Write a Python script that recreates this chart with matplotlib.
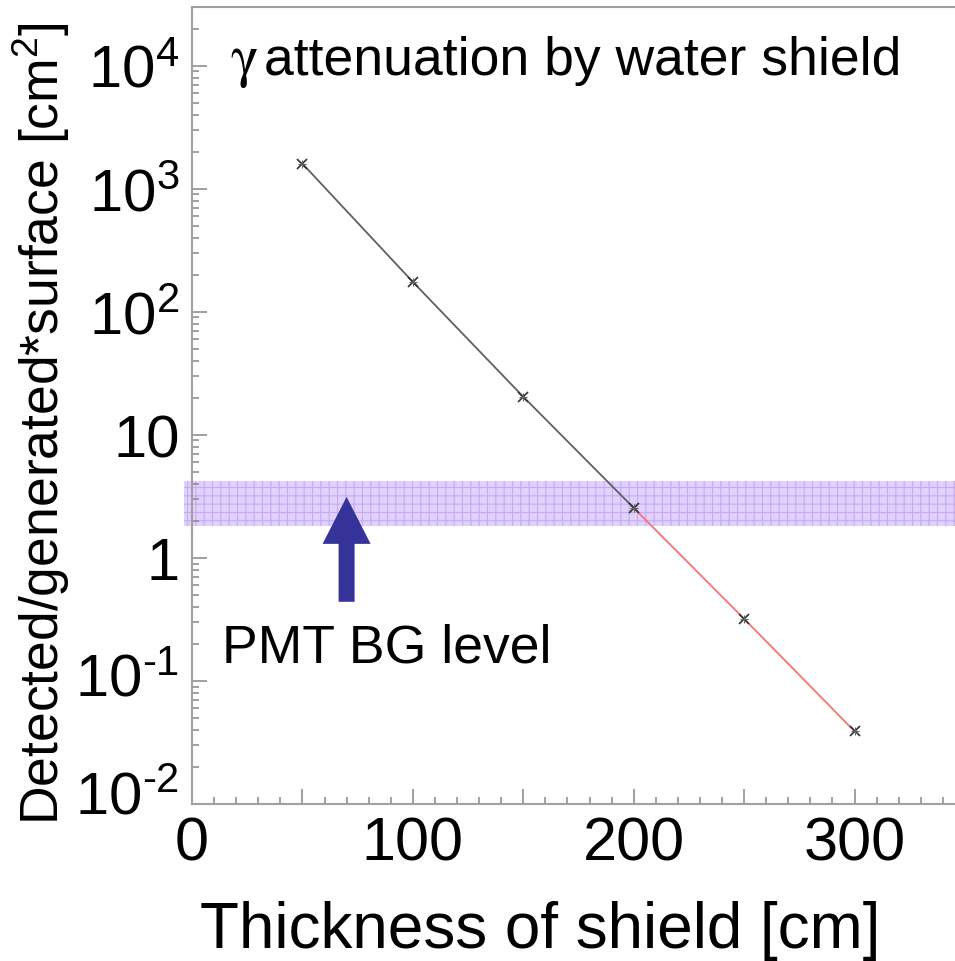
import numpy as np
import matplotlib
matplotlib.use("Agg")
import matplotlib.pyplot as plt
from matplotlib.ticker import LogLocator, MultipleLocator, NullFormatter
from matplotlib.transforms import offset_copy

plt.rcParams["font.family"] = ["Liberation Sans", "DejaVu Sans"]
plt.rcParams["mathtext.fontset"] = "custom"
plt.rcParams["mathtext.rm"] = "Liberation Sans"
plt.rcParams["mathtext.default"] = "regular"
plt.rcParams["hatch.linewidth"] = 0.8

# data
thickness = [50, 100, 150, 200, 250, 300]
ratio = [1600, 175, 20.4, 2.55, 0.32, 0.039]
split = 3  # black part up to 200 cm, red beyond

bg_low, bg_high = 1.8, 4.2
arrow_x, arrow_from, arrow_to = 70, 0.44, 3.13

xtick_pos = [0, 50, 100, 150, 200, 250, 300]
xtick_labels = ["0", "", "100", "", "200", "", "300"]
ytick_pos = [1e-2, 1e-1, 1, 10, 1e2, 1e3, 1e4]
ytick_labels = ["10$^{\\text{-}2}$", "10$^{\\text{-}1}$", "1", "10",
                "10$^{2}$", "10$^{3}$", "10$^{4}$"]

fig = plt.figure(figsize=(9.55, 9.62), dpi=100)
ax = fig.add_axes([192 / 955, 157 / 962, 1 - 192 / 955, 797 / 962])
ax.set_yscale("log")
ax.set_xlim(0, 345.5)
ax.set_ylim(1e-2, 3e4)

ax.axhspan(bg_low, bg_high, xmin=-0.011, xmax=1, facecolor="#e0d2fc",
           edgecolor="#c7a9f4", hatch="++", linewidth=0, clip_on=False, zorder=1)

ax.plot(thickness[:split + 1], ratio[:split + 1], color="#606060", lw=1.3, zorder=3)
ax.plot(thickness[split:], ratio[split:], color="#f27474", lw=1.3, zorder=3)
ax.plot(thickness, ratio, ls="none", marker="x", ms=7, mew=1.2, color="#333333", zorder=4)
ax.plot(thickness, ratio, ls="none", marker="+", ms=6, mew=0.8, color="#666666", zorder=4)

ax.annotate("", xy=(arrow_x, arrow_to), xytext=(arrow_x, arrow_from),
            arrowprops=dict(arrowstyle="simple,head_length=3.38,head_width=3.46,tail_width=1.15",
                            mutation_scale=10, color="#35339a", shrinkA=0, shrinkB=0, lw=0),
            zorder=5)

ax.text(13.5, 0.145, "PMT BG level", fontsize=38.5, va="baseline", ha="left")
# the gamma is a serif (symbol) glyph in the original
ax.text(0.05, 0.916, "$\\mathrm{\\gamma}$", fontsize=42, math_fontfamily="stix",
        transform=ax.transAxes, va="baseline", ha="left")
ax.text(0.094, 0.916, "attenuation by water shield", fontsize=38.5,
        transform=ax.transAxes, va="baseline", ha="left")

ax.set_xticks(xtick_pos)
ax.set_xticklabels(xtick_labels)
ax.xaxis.set_minor_locator(MultipleLocator(10))
ax.set_yticks(ytick_pos)
ax.set_yticklabels(ytick_labels)
ax.yaxis.set_minor_locator(LogLocator(base=10, subs=np.arange(2, 10)))
ax.yaxis.set_minor_formatter(NullFormatter())

ax.tick_params(which="both", direction="in", color="#909090", width=1.2)
ax.tick_params(which="major", length=10.5, labelsize=43)
ax.tick_params(axis="x", which="major", labelsize=44)
ax.tick_params(which="minor", length=5)
ax.tick_params(axis="x", pad=8)
ax.tick_params(axis="y", pad=9)

# lift the two lowest y labels a little, as in the original
for tick, dy in zip(ax.yaxis.get_major_ticks()[:2], [12, 6]):
    tick.label1.set_transform(offset_copy(tick.label1.get_transform(), fig=fig, x=0, y=dy, units="dots"))

for side in ["left", "bottom", "top"]:
    ax.spines[side].set_color("#a0a0a0")
    ax.spines[side].set_linewidth(1.5)
ax.spines["right"].set_visible(False)

ax.set_xlabel("Thickness of shield [cm]", fontsize=46)
ax.xaxis.set_label_coords(0.456, -0.12)
ax.set_ylabel("Detected/generated*surface [cm$^{2}$]", fontsize=38.5)
ax.yaxis.set_label_coords(-0.157, 0.479)

fig.savefig("out.png", dpi=100)
